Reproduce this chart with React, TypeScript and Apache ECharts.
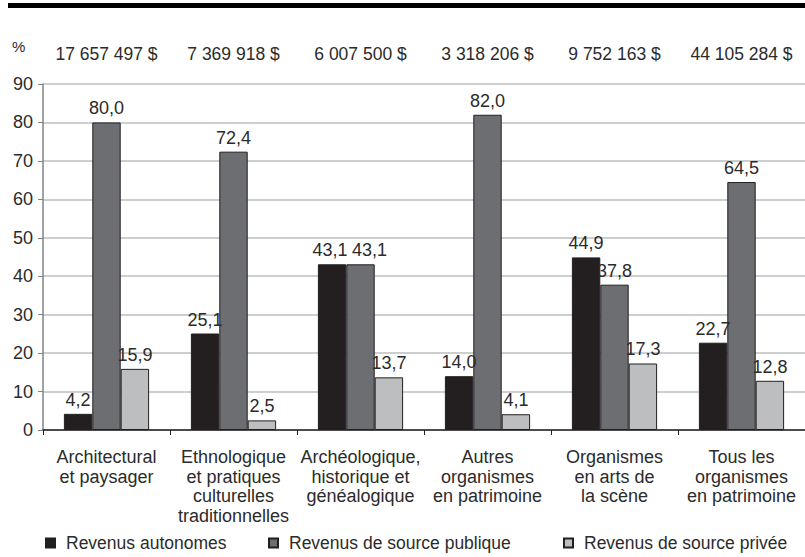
import React, { useEffect, useRef } from "react";
import * as echarts from "echarts";

const categories = [
  "Architectural\net paysager",
  "Ethnologique\net pratiques\nculturelles\ntraditionnelles",
  "Archéologique,\nhistorique et\ngénéalogique",
  "Autres\norganismes\nen patrimoine",
  "Organismes\nen arts de\nla scène",
  "Tous les\norganismes\nen patrimoine",
];
const totals = [
  "17 657 497 $",
  "7 369 918 $",
  "6 007 500 $",
  "3 318 206 $",
  "9 752 163 $",
  "44 105 284 $",
];
const seriesNames = [
  "Revenus autonomes",
  "Revenus de source publique",
  "Revenus de source privée",
];
const autonomes = [4.2, 25.1, 43.1, 14.0, 44.9, 22.7];
const publique = [80.0, 72.4, 43.1, 82.0, 37.8, 64.5];
const privee = [15.9, 2.5, 13.7, 4.1, 17.3, 12.8];
const colors = ["#231f20", "#6d6e71", "#bcbec0"];
const legendLefts = [45, 268, 563];

const FONT = "'Liberation Sans', Arial, sans-serif";
const TXT = "#2b2b2b";

export default function App() {
  const ref = useRef<HTMLDivElement>(null);
  useEffect(() => {
    document.body.style.margin = "0";
    document.body.style.overflow = "hidden";
    if (!ref.current) return;
    const chart = echarts.init(ref.current, undefined, { renderer: "svg" });
    const values = [autonomes, publique, privee];
    chart.setOption({
      animation: false,
      textStyle: { fontFamily: FONT, color: TXT },
      grid: { left: 43, right: -2, top: 84, bottom: 127, containLabel: false },
      graphic: [
        { type: "rect", shape: { x: 8, y: 3, width: 800, height: 5 }, style: { fill: "#000" } },
        {
          type: "text",
          x: 12,
          y: 46,
          style: { text: "%", fontSize: 15, fontFamily: FONT, fill: TXT, verticalAlign: "middle" },
        },
      ],
      legend: seriesNames.map((name, i) => ({
        data: [name],
        left: legendLefts[i],
        top: 534,
        padding: 0,
        icon: "rect",
        itemWidth: 9,
        itemHeight: 9,
        textStyle: {
          fontSize: 17.5,
          lineHeight: 18,
          fontFamily: FONT,
          color: TXT,
          padding: [0, 0, 0, 6],
        },
      })),
      xAxis: [
        {
          type: "category",
          data: categories,
          axisLine: { lineStyle: { color: "#231f20", width: 1.5 } },
          axisTick: { show: true, length: 5, lineStyle: { color: "#231f20" } },
          axisLabel: {
            interval: 0,
            fontSize: 18,
            lineHeight: 19.7,
            margin: 17,
            color: TXT,
            fontFamily: FONT,
          },
        },
        {
          type: "category",
          position: "top",
          data: totals,
          axisLine: { show: false },
          axisTick: { show: false },
          axisLabel: {
            interval: 0,
            fontSize: 17.5,
            lineHeight: 20,
            margin: 20,
            color: TXT,
            fontFamily: FONT,
          },
        },
      ],
      yAxis: {
        type: "value",
        min: 0,
        max: 90,
        interval: 10,
        axisLine: { show: true, lineStyle: { color: "#808285", width: 1.5 } },
        axisTick: { show: true, length: 5, lineStyle: { color: "#808285" } },
        axisLabel: { fontSize: 18, margin: 10, color: TXT, fontFamily: FONT },
        splitLine: { lineStyle: { color: "#bcbec0", width: 1.5 } },
      },
      series: values.map((v, i) => ({
        name: seriesNames[i],
        type: "bar",
        xAxisIndex: 0,
        data: v.map((val, j) =>
          i === 1 && j === 2
            ? { value: val, label: { offset: [9, 0] } }
            : i === 0 && j === 2
            ? { value: val, label: { offset: [-2, 0] } }
            : val
        ),
        barWidth: 28.4,
        barGap: "0%",
        itemStyle: { color: colors[i], borderColor: "#231f20", borderWidth: 1 },
        label: {
          show: true,
          position: "top",
          distance: 5,
          fontSize: 18,
          color: TXT,
          fontFamily: FONT,
          formatter: (p: any) => Number(p.value).toFixed(1).replace(".", ","),
        },
      })),
    });
    return () => chart.dispose();
  }, []);
  return <div ref={ref} style={{ width: 805, height: 557 }} />;
}
